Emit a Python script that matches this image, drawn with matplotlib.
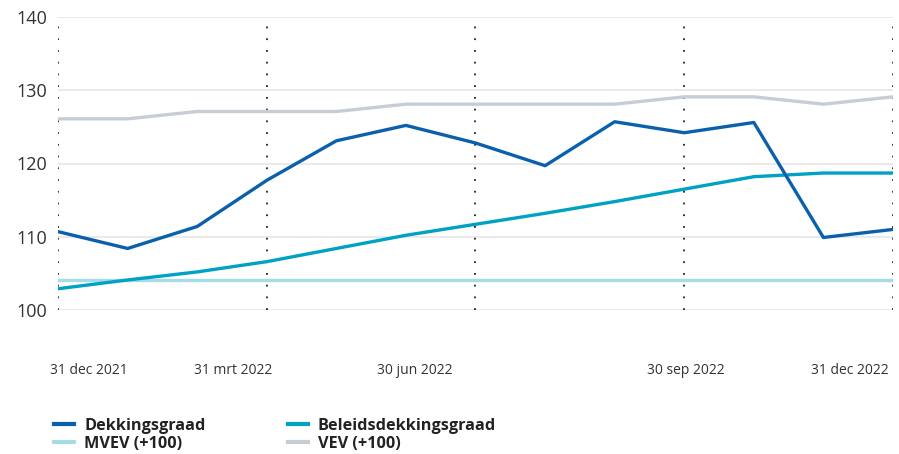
import numpy as np
import matplotlib.pyplot as plt
from matplotlib.lines import Line2D

plt.rcParams['font.family'] = ['Open Sans', 'DejaVu Sans']

# month-end values, 31 dec 2021 .. 31 dec 2022
months = np.arange(13)
dekking = [110.7, 108.4, 111.4, 117.7, 123.1, 125.2, 122.8, 119.7, 125.7, 124.2, 125.6, 109.9, 111.0]
beleids = [102.9, 104.1, 105.2, 106.6, 108.4, 110.2, 111.7, 113.2, 114.8, 116.5, 118.2, 118.7, 118.7]
mvev = [104.1] * 13
vev = [126.1, 126.1, 127.1, 127.1, 127.1, 128.1, 128.1, 128.1, 128.1, 129.1, 129.1, 128.1, 129.1]

quarter_pos = [0, 3, 6, 9, 12]
xlabel_pos = [0.45, 2.51, 5.13, 9.02, 11.38]
xlabels = ['31 dec 2021', '31 mrt 2022', '30 jun 2022', '30 sep 2022', '31 dec 2022']
yticks = [100, 110, 120, 130, 140]

c_dek = '#0a60ad'
c_bel = '#00a2c3'
c_mvev = '#a6dce6'
c_vev = '#c7cdd4'

fig = plt.figure(figsize=(8.99, 4.54), dpi=100)
ax = fig.add_axes([58/899, 1-310/454, (893-58)/899, (310-17)/454])

for y in yticks:
    ax.axhline(y, color='#e6e6e6', lw=1.2, zorder=0)
for x in quarter_pos:
    ax.axvline(x, color='#222222', lw=1.3, ls=(0, (1, 5.5)), zorder=1)

ax.plot(months, mvev, color=c_mvev, lw=2.4, zorder=2)
ax.plot(months, vev, color=c_vev, lw=2.4, zorder=2)
ax.plot(months, beleids, color=c_bel, lw=2.4, zorder=3)
ax.plot(months, dekking, color=c_dek, lw=2.4, zorder=4)

ax.set_xlim(0, 12)
ax.set_ylim(100, 140)
ax.set_yticks(yticks)
ax.set_yticklabels([str(v) for v in yticks], fontsize=13, color='#333333')
ax.set_xticks(xlabel_pos)
ax.set_xticklabels(xlabels, fontsize=10, color='#333333')
ax.tick_params(axis='y', length=0, pad=8)
ax.tick_params(axis='x', length=0, pad=38)
for s in ax.spines.values():
    s.set_visible(False)

handles = [Line2D([], [], color=c_dek, lw=3),
           Line2D([], [], color=c_mvev, lw=3),
           Line2D([], [], color=c_bel, lw=3),
           Line2D([], [], color=c_vev, lw=3)]
names = ['Dekkingsgraad', 'MVEV (+100)', 'Beleidsdekkingsgraad', 'VEV (+100)']
leg = fig.legend(handles, names, ncol=2, loc='upper left',
                 bbox_to_anchor=(54/899, 1-418/454), frameon=False,
                 prop={'size': 11.7, 'weight': 'bold'},
                 handlelength=1.25, handletextpad=0.6, columnspacing=5.05,
                 labelspacing=0.1, borderaxespad=0, borderpad=0)
for t in leg.get_texts():
    t.set_color('#222222')

fig.savefig('out.png', dpi=100)
